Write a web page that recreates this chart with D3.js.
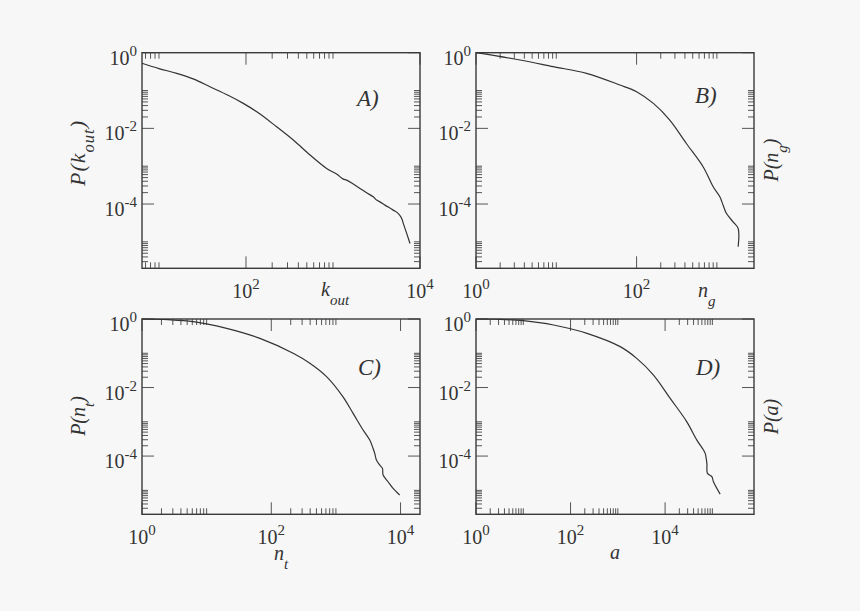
<!DOCTYPE html>
<html><head><meta charset="utf-8">
<script src="https://cdn.jsdelivr.net/npm/d3@7"></script>
<style>html,body{margin:0;padding:0;background:#f7f7f7;} svg{display:block;}</style>
</head><body>
<svg id="chart" width="860" height="611"></svg>
<script>
// ---------- data ----------
// Panel A: P(k_out)
const kOut  = [6.38, 10, 15.96, 25.1, 38.5, 63.1, 93.1, 141, 225, 350, 545, 845, 1101, 1312, 1435, 1710, 2042, 2438, 2904, 3177, 3467, 3963, 4932, 5636, 6166, 6427, 7031, 7674];
const pKout = [0.525, 0.380, 0.285, 0.200, 0.126, 0.0741, 0.0458, 0.0251, 0.0110, 0.0049, 0.00197, 8.7e-4, 6.18e-4, 4.56e-4, 4.29e-4, 3.36e-4, 2.59e-4, 1.98e-4, 1.55e-4, 1.27e-4, 1.14e-4, 9.35e-5, 6.9e-5, 5.6e-5, 4.16e-5, 3.07e-5, 1.67e-5, 9.08e-6];
// Panel B: P(n_g)
const nG  = [1, 3.53, 9.16, 23.8, 61.9, 100, 162, 259, 417, 676, 899, 1089, 1197, 1318, 1592, 1841, 1841];
const pNg = [1, 0.641, 0.427, 0.285, 0.140, 0.0933, 0.0457, 0.0166, 0.00398, 9.55e-4, 2.85e-4, 1.55e-4, 9.3e-5, 5.6e-5, 3.39e-5, 2.26e-5, 7.4e-6];
// Panel C: P(n_t)
const nT  = [1, 2.51, 6.21, 20.4, 66.7, 218, 395, 716, 1288, 1845, 2636, 3342, 3758, 3990, 4236, 4775, 5248, 5370, 6412, 7656, 9727];
const pNt = [1, 0.955, 0.836, 0.533, 0.272, 0.1, 0.0513, 0.0209, 0.00537, 0.00176, 5.75e-4, 2.93e-4, 1.67e-4, 1.2e-4, 7.64e-5, 5.46e-5, 4.37e-5, 2.79e-5, 1.78e-5, 1.14e-5, 7.26e-6];
// Panel D: P(a)
const aVal = [1, 3.16, 10, 43.7, 222, 1122, 2512, 5689, 12823, 28840, 46990, 64860, 70470, 76560, 78890, 97720, 105400, 146200];
const pA   = [1, 0.977, 0.891, 0.668, 0.382, 0.156, 0.0711, 0.0232, 0.00483, 0.001, 2.93e-4, 1.5e-4, 1.2e-4, 6.11e-5, 3.13e-5, 2.51e-5, 1.78e-5, 7.78e-6];

// axis ranges and tick labels
const yDomain = [2e-6, 1];
const yTickLabels = [1, 1e-2, 1e-4];
const yMajorAll = [1e-6, 1e-4, 1e-2, 1];
const xMajorAll = [1, 1e2, 1e4, 1e6];
const minorMult = [2, 3, 4, 5, 6, 7, 8, 9, 10];
const xDomainA = [6.38, 1e4], xTicksA = [1e2, 1e4];
const xDomainB = [1, 2900],   xTicksB = [1, 1e2];
const xDomainC = [1, 2e4],    xTicksC = [1, 1e2, 1e4];
const xDomainD = [1, 7.6e5],  xTicksD = [1, 1e2, 1e4];
const panelLetters = ["A)", "B)", "C)", "D)"];

// ---------- drawing ----------
const svg = d3.select("#chart");
svg.append("rect").attr("width", 860).attr("height", 611).attr("fill", "#f7f7f7");
const FONT = "'Liberation Serif','Times New Roman',serif";
const INK = "#333";

const panels = [
  {xs: kOut, ys: pKout, xDomain: xDomainA, xTicks: xTicksA, left: 142, right: 420, top: 52.7, bottom: 268.3,
   letter: panelLetters[0], letterX: 357, letterY: 106,
   xTitle: ["k", "out"], xTitleX: 321, xTitleY: 295.7,
   yTitle: ["P(k", "out", ")"], yTitleX: 85, yTitleY: 153, yTitleSize: 22, yTitleSpacing: 1},
  {xs: nG, ys: pNg, xDomain: xDomainB, xTicks: xTicksB, left: 476, right: 754, top: 52.7, bottom: 268.3,
   letter: panelLetters[1], letterX: 695, letterY: 103,
   xTitle: ["n", "g"], xTitleX: 698, xTitleY: 296.7,
   yTitle: ["P(n", "g", ")"], yTitleX: 778, yTitleY: 160, yTitleSize: 20, yTitleSpacing: 0},
  {xs: nT, ys: pNt, xDomain: xDomainC, xTicks: xTicksC, left: 142, right: 420, top: 319, bottom: 514.3,
   letter: panelLetters[2], letterX: 358, letterY: 375,
   xTitle: ["n", "t"], xTitleX: 274, xTitleY: 560,
   yTitle: ["P(n", "t", ")"], yTitleX: 85, yTitleY: 416, yTitleSize: 20, yTitleSpacing: 0},
  {xs: aVal, ys: pA, xDomain: xDomainD, xTicks: xTicksD, left: 476, right: 754, top: 319, bottom: 514.3,
   letter: panelLetters[3], letterX: 696, letterY: 375,
   xTitle: ["a", ""], xTitleX: 610, xTitleY: 559,
   yTitle: ["P(a)", "", ""], yTitleX: 778, yTitleY: 416.5, yTitleSize: 20, yTitleSpacing: 0}
];

function powLabel(sel, v) {
  const e = Math.round(Math.log10(v));
  sel.append("tspan").text("10");
  sel.append("tspan").attr("dy", -9).attr("font-size", 15).text(String(e));
}

panels.forEach(p => {
  const g = svg.append("g");
  const x = d3.scaleLog().domain(p.xDomain).range([p.left, p.right]);
  const y = d3.scaleLog().domain(yDomain).range([p.bottom, p.top]);
  const inX = v => v >= p.xDomain[0] * 0.9999 && v <= p.xDomain[1] * 1.0001;
  const inXo = v => v > p.xDomain[0] * 1.0001 && v < p.xDomain[1] * 0.9999;
  const inYo = v => v > yDomain[0] * 1.0001 && v < yDomain[1] * 0.9999;

  const MAJ = 12, MIN = 6;
  const ticks = g.append("g").attr("stroke", "#555").attr("stroke-width", 1);
  // x ticks (bottom + mirrored top, pointing inwards)
  const xMinor = [];
  xMajorAll.forEach(m => minorMult.forEach(k => { if (inXo(k * m)) xMinor.push(k * m); }));
  xMinor.forEach(v => {
    ticks.append("line").attr("x1", x(v)).attr("x2", x(v)).attr("y1", p.bottom).attr("y2", p.bottom - MIN);
    ticks.append("line").attr("x1", x(v)).attr("x2", x(v)).attr("y1", p.top).attr("y2", p.top + MIN);
  });
  p.xTicks.filter(inX).forEach(v => {
    ticks.append("line").attr("x1", x(v)).attr("x2", x(v)).attr("y1", p.bottom).attr("y2", p.bottom - MAJ);
    ticks.append("line").attr("x1", x(v)).attr("x2", x(v)).attr("y1", p.top).attr("y2", p.top + MAJ);
  });
  // y ticks (left + mirrored right)
  const yMinor = [];
  yMajorAll.forEach(m => minorMult.forEach(k => { if (inYo(k * m)) yMinor.push(k * m); }));
  yMinor.forEach(v => {
    ticks.append("line").attr("y1", y(v)).attr("y2", y(v)).attr("x1", p.left).attr("x2", p.left + MIN);
    ticks.append("line").attr("y1", y(v)).attr("y2", y(v)).attr("x1", p.right).attr("x2", p.right - MIN);
  });
  yTickLabels.forEach(v => {
    ticks.append("line").attr("y1", y(v)).attr("y2", y(v)).attr("x1", p.left).attr("x2", p.left + MAJ);
    ticks.append("line").attr("y1", y(v)).attr("y2", y(v)).attr("x1", p.right).attr("x2", p.right - MAJ);
  });

  // frame
  g.append("rect").attr("x", p.left).attr("y", p.top)
    .attr("width", p.right - p.left).attr("height", p.bottom - p.top)
    .attr("fill", "none").attr("stroke", "#3a3a3a").attr("stroke-width", 1.4);

  // curve
  const line = d3.line().x((d, i) => x(p.xs[i])).y((d, i) => y(p.ys[i]))
    .curve(d3.curveCatmullRom.alpha(0.5));
  g.append("path").attr("d", line(p.xs)).attr("fill", "none")
    .attr("stroke", INK).attr("stroke-width", 1.2);

  // x tick labels
  p.xTicks.filter(inX).forEach(v => {
    const t = g.append("text").attr("x", x(v)).attr("y", p.bottom + 30)
      .attr("text-anchor", "middle").attr("font-family", FONT).attr("font-size", 20).attr("fill", INK);
    powLabel(t, v);
  });
  // y tick labels
  yTickLabels.forEach(v => {
    const t = g.append("text").attr("x", p.left - 5).attr("y", y(v) + 12)
      .attr("text-anchor", "end").attr("font-family", FONT).attr("font-size", 20).attr("fill", INK);
    powLabel(t, v);
  });

  // panel letter
  g.append("text").attr("x", p.letterX).attr("y", p.letterY)
    .attr("font-family", FONT).attr("font-style", "italic").attr("font-size", 23).attr("fill", INK)
    .text(p.letter);

  // x title
  const xt = g.append("text").attr("x", p.xTitleX).attr("y", p.xTitleY)
    .attr("font-family", FONT).attr("font-style", "italic").attr("font-size", 20).attr("fill", INK);
  xt.append("tspan").text(p.xTitle[0]);
  if (p.xTitle[1]) xt.append("tspan").attr("dy", 9).attr("font-size", 15).text(p.xTitle[1]);

  // y title (rotated)
  const yt = g.append("text")
    .attr("transform", `translate(${p.yTitleX},${p.yTitleY}) rotate(-90)`)
    .attr("text-anchor", "middle").attr("font-family", FONT).attr("font-style", "italic")
    .attr("font-size", p.yTitleSize).attr("fill", INK).attr("letter-spacing", p.yTitleSpacing);
  yt.append("tspan").text(p.yTitle[0]);
  if (p.yTitle[1]) {
    yt.append("tspan").attr("dy", 9).attr("font-size", p.yTitleSize * 0.75).text(p.yTitle[1]);
    yt.append("tspan").attr("dy", -9).text(p.yTitle[2]);
  }
});
</script>
</body></html>
